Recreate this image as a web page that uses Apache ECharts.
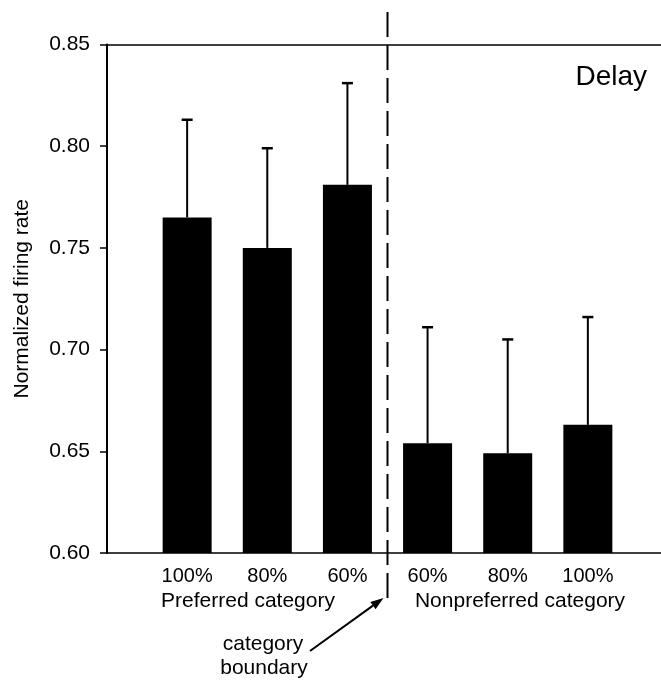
<!DOCTYPE html>
<html>
<head>
<meta charset="utf-8">
<script src="https://cdn.jsdelivr.net/npm/echarts@6/dist/echarts.min.js"></script>
<style>
  html, body { margin: 0; padding: 0; background: #fff; }
  #chart { width: 661px; height: 683px; }
</style>
</head>
<body>
<div id="chart"></div>
<script>
// Conditions, left to right: preferred then nonpreferred category morph levels
const categories = ['100%', '80%', '60%', '60%', '80%', '100%'];
const positions = [1, 2, 3, 4, 5, 6];
// Mean normalized firing rate during the delay period
const means = [0.765, 0.750, 0.781, 0.654, 0.649, 0.663];
// Upper error (SEM) above each mean
const errors = [0.048, 0.049, 0.050, 0.057, 0.056, 0.053];
// Position of the category boundary on the x scale
const boundary = 3.5;
const yTicks = [0.60, 0.65, 0.70, 0.75, 0.80, 0.85];
const groupNames = ['Preferred category', 'Nonpreferred category'];

const FONT = '"Liberation Sans", Arial, sans-serif';

const chart = echarts.init(document.getElementById('chart'), null, { renderer: 'canvas' });

const barData = positions.map((p, i) => [p, means[i]]);
const errData = positions.map((p, i) => [p, means[i], means[i] + errors[i]]);

chart.setOption({
  animation: false,
  backgroundColor: '#ffffff',
  grid: { left: 107, top: 44.5, right: -7, bottom: 130, containLabel: false, outerBoundsMode: 'none' },
  xAxis: [
    {
      type: 'value', min: 0, max: 7, interval: 1, position: 'bottom',
      axisLine: { show: true, onZero: false, lineStyle: { color: '#000', width: 1.5 } },
      axisTick: { show: false },
      splitLine: { show: false },
      axisLabel: {
        margin: 13, color: '#000', fontSize: 20, fontFamily: FONT,
        formatter: v => (v >= 1 && v <= categories.length) ? categories[v - 1] : ''
      }
    },
    {
      type: 'value', min: 0, max: 7, position: 'top',
      axisLine: { show: true, onZero: false, lineStyle: { color: '#000', width: 1.5 } },
      axisTick: { show: false }, axisLabel: { show: false }, splitLine: { show: false }
    }
  ],
  yAxis: {
    type: 'value', min: yTicks[0], max: yTicks[yTicks.length - 1], interval: 0.05,
    name: 'Normalized firing rate', nameLocation: 'middle', nameGap: 74,
    nameTextStyle: { color: '#000', fontSize: 21, fontFamily: FONT },
    axisLine: { show: true, lineStyle: { color: '#000', width: 2 } },
    axisTick: { show: true, inside: false, length: 7, lineStyle: { color: '#000', width: 1.5 } },
    splitLine: { show: false },
    axisLabel: {
      margin: 17, color: '#000', fontSize: 21, fontFamily: FONT,
      formatter: v => v.toFixed(2)
    }
  },
  series: [
    {
      type: 'bar', xAxisIndex: 0, data: barData, barWidth: 49,
      itemStyle: { color: '#000' }
    },
    {
      type: 'custom', xAxisIndex: 0, data: errData, z: 1,
      renderItem: function (params, api) {
        const x = api.value(0);
        const base = api.coord([x, api.value(1)]);
        const top = api.coord([x, api.value(2)]);
        const cap = 5.5;
        return {
          type: 'group',
          children: [
            { type: 'line', shape: { x1: base[0], y1: base[1], x2: top[0], y2: top[1] },
              style: { stroke: '#000', lineWidth: 2 } },
            { type: 'line', shape: { x1: top[0] - cap, y1: top[1], x2: top[0] + cap, y2: top[1] },
              style: { stroke: '#000', lineWidth: 2.5 } }
          ]
        };
      }
    }
  ]
});

// Boundary line, group titles, panel label and the annotation arrow
const bx = chart.convertToPixel({ xAxisIndex: 0 }, boundary);
const tail = [310, 651], tip = [bx - 4, 598];
const dx = tip[0] - tail[0], dy = tip[1] - tail[1];
const len = Math.hypot(dx, dy), ux = dx / len, uy = dy / len;
const headLen = 13, headHalf = 4.5;
const hb = [tip[0] - ux * headLen, tip[1] - uy * headLen];

chart.setOption({
  graphic: [
    { type: 'line', z: 10, shape: { x1: bx, y1: 12, x2: bx, y2: 598 },
      style: { stroke: '#000', lineWidth: 2, lineDash: [25, 8] } },
    { type: 'text', x: 248, y: 601,
      style: { text: groupNames[0], fill: '#000', font: '21px ' + FONT, align: 'center', verticalAlign: 'middle' } },
    { type: 'text', x: 520, y: 601,
      style: { text: groupNames[1], fill: '#000', font: '21px ' + FONT, align: 'center', verticalAlign: 'middle' } },
    { type: 'text', x: 647, y: 77,
      style: { text: 'Delay', fill: '#000', font: '28px ' + FONT, align: 'right', verticalAlign: 'middle' } },
    { type: 'text', x: 263, y: 644,
      style: { text: 'category', fill: '#000', font: '21px ' + FONT, align: 'center', verticalAlign: 'middle' } },
    { type: 'text', x: 264, y: 668,
      style: { text: 'boundary', fill: '#000', font: '21px ' + FONT, align: 'center', verticalAlign: 'middle' } },
    { type: 'line', shape: { x1: tail[0], y1: tail[1], x2: hb[0], y2: hb[1] },
      style: { stroke: '#000', lineWidth: 2 } },
    { type: 'polygon',
      shape: { points: [tip,
        [hb[0] + uy * headHalf, hb[1] - ux * headHalf],
        [hb[0] - uy * headHalf, hb[1] + ux * headHalf]] },
      style: { fill: '#000' } }
  ]
});
</script>
</body>
</html>
